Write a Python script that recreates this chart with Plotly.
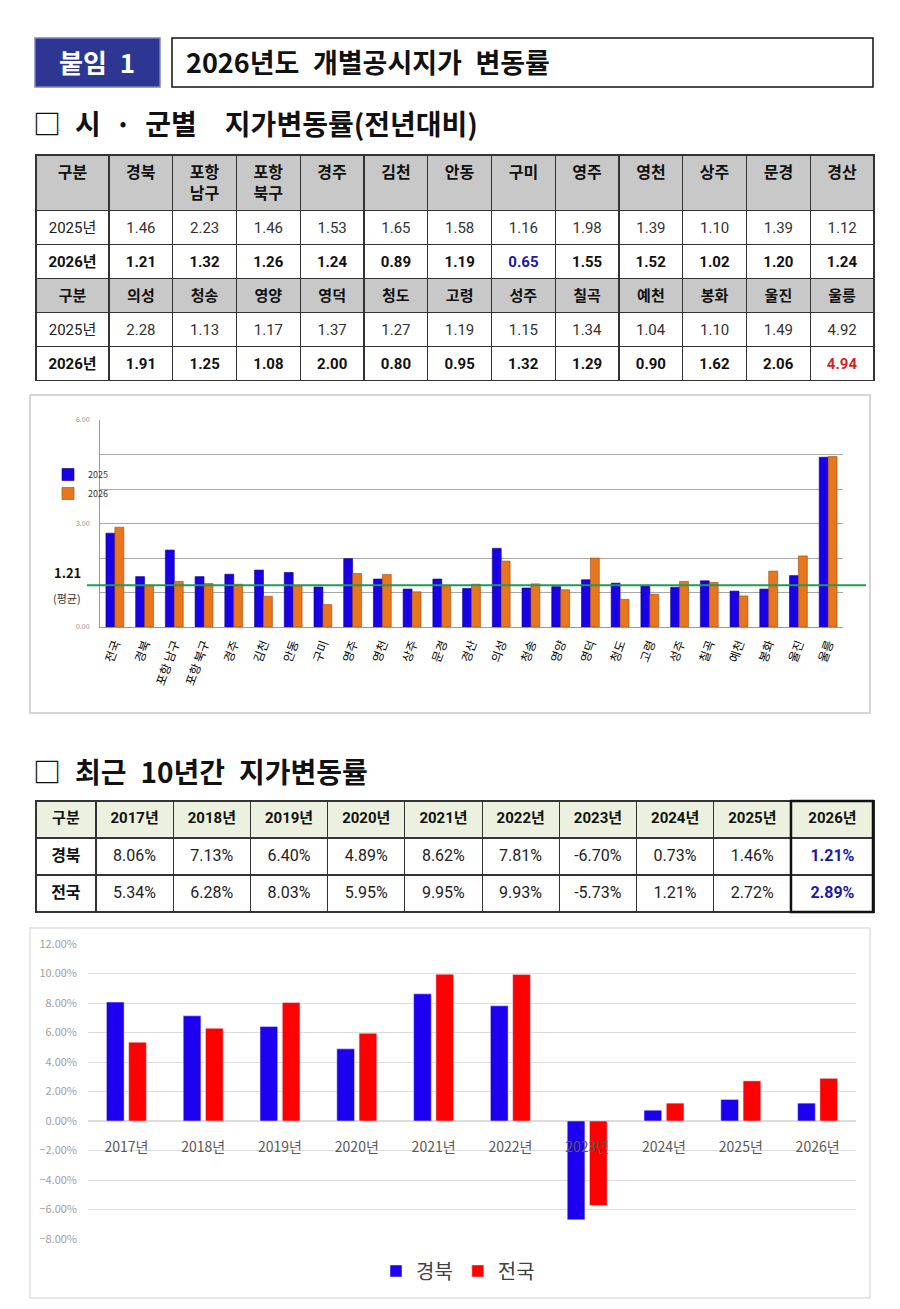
import plotly.graph_objects as go

W, H = 900, 1309
FONT = "Noto Sans CJK KR"
TFONT = "Roboto, Noto Sans CJK KR"
OFF = 8  # page body margin of the browser

def xp(x):
    return (x - OFF) / W

def yp(y):
    return 1 - (y - OFF) / H

# ---------------- data ----------------
group1 = ["경북", "포항 남구", "포항 북구", "경주", "김천", "안동", "구미", "영주", "영천", "상주", "문경", "경산"]
g1_2025 = [1.46, 2.23, 1.46, 1.53, 1.65, 1.58, 1.16, 1.98, 1.39, 1.10, 1.39, 1.12]
g1_2026 = [1.21, 1.32, 1.26, 1.24, 0.89, 1.19, 0.65, 1.55, 1.52, 1.02, 1.20, 1.24]
group2 = ["의성", "청송", "영양", "영덕", "청도", "고령", "성주", "칠곡", "예천", "봉화", "울진", "울릉"]
g2_2025 = [2.28, 1.13, 1.17, 1.37, 1.27, 1.19, 1.15, 1.34, 1.04, 1.10, 1.49, 4.92]
g2_2026 = [1.91, 1.25, 1.08, 2.00, 0.80, 0.95, 1.32, 1.29, 0.90, 1.62, 2.06, 4.94]
nation_label = "전국"

years = ["2017년", "2018년", "2019년", "2020년", "2021년", "2022년", "2023년", "2024년", "2025년", "2026년"]
gyeongbuk = [8.06, 7.13, 6.40, 4.89, 8.62, 7.81, -6.70, 0.73, 1.46, 1.21]
nation = [5.34, 6.28, 8.03, 5.95, 9.95, 9.93, -5.73, 1.21, 2.72, 2.89]

avg_value = g1_2026[0]  # 경북 2026 average line

fig = go.Figure()

BLUE_TXT = "#1a1aa8"
RED_TXT = "#d61f26"
GRAY = "#c8c8c8"

def b(s):
    return f"<b>{s}</b>"

def p(s):
    return f"<span>{s}</span>"

# ---------------- table 1 ----------------
t1_header = [b("구분")] + [b(n.replace(" ", "<br>")) for n in group1]
t1_cols = [[p("2025년"), b("2026년"), b("구분"), p("2025년"), b("2026년")]]
t1_fill = [["white", "white", GRAY, "white", "white"]]
t1_fcol = [["#222", "#111", "#111", "#222", "#111"]]
low_i = g1_2026.index(min(g1_2026))
high_i = g2_2026.index(max(g2_2026))
for i in range(12):
    t1_cols.append([p(f"{g1_2025[i]:.2f}"), b(f"{g1_2026[i]:.2f}"), b(group2[i]),
                    p(f"{g2_2025[i]:.2f}"), b(f"{g2_2026[i]:.2f}")])
    t1_fill.append(["white", "white", GRAY, "white", "white"])
    t1_fcol.append(["#333", BLUE_TXT if i == low_i else "#111", "#111", "#333",
                    RED_TXT if i == high_i else "#111"])

fig.add_trace(go.Table(
    domain=dict(x=[xp(36), xp(874)], y=[yp(394), yp(155)]),
    columnwidth=[73] + [63.7] * 12,
    header=dict(values=t1_header, fill_color=GRAY, align="center", height=50,
                line=dict(color="#333", width=1.2),
                font=dict(family=TFONT, size=16, color="#111")),
    cells=dict(values=t1_cols, fill_color=t1_fill, align="center", height=32,
               line=dict(color="#333", width=1.2),
               font=dict(family=TFONT, size=15, color=t1_fcol)),
))

# ---------------- table 2 ----------------
t2_header = [b("구분")] + [b(y) for y in years]
t2_cols = [[b("경북"), b("전국")]]
t2_fcol = [["#111", "#111"]]
for i in range(len(years)):
    last = i == len(years) - 1
    f = b if last else p
    t2_cols.append([f(f"{gyeongbuk[i]:.2f}%"), f(f"{nation[i]:.2f}%")])
    t2_fcol.append([BLUE_TXT if last else "#222", BLUE_TXT if last else "#222"])

t2_widths = [60] + [77.2] * 9 + [83]
fig.add_trace(go.Table(
    domain=dict(x=[xp(36), xp(874)], y=[yp(922), yp(801)]),
    columnwidth=t2_widths,
    header=dict(values=t2_header, fill_color="#ebf1de", align="center", height=37,
                line=dict(color="#333", width=1.2),
                font=dict(family=TFONT, size=15, color="#111")),
    cells=dict(values=t2_cols, fill_color="white", align="center", height=37,
               line=dict(color="#333", width=1.2),
               font=dict(family=TFONT, size=16, color=t2_fcol)),
))

# ---------------- chart 1 ----------------
cats = [nation_label] + group1 + group2
v25 = [nation[-2]] + g1_2025 + g2_2025
v26 = [nation[-1]] + g1_2026 + g2_2026

bw1 = 0.30
fig.add_trace(go.Bar(x=cats, y=v25, name="2025", width=bw1, offset=-bw1,
                     marker=dict(color="#1a00e6", line=dict(color="#0a0080", width=0.6)),
                     xaxis="x", yaxis="y", legend="legend"))
fig.add_trace(go.Bar(x=cats, y=v26, name="2026", width=bw1, offset=0,
                     marker=dict(color="#e8761e", line=dict(color="#9a4a0a", width=0.6)),
                     xaxis="x", yaxis="y", legend="legend"))

# ---------------- chart 2 ----------------
bw2 = 0.23
fig.add_trace(go.Bar(x=years, y=gyeongbuk, name="경북", width=bw2, offset=-bw2 - 0.03,
                     marker=dict(color="#1e00f0"), xaxis="x2", yaxis="y2", legend="legend2"))
fig.add_trace(go.Bar(x=years, y=nation, name="전국", width=bw2, offset=0.03,
                     marker=dict(color="#ff0000"), xaxis="x2", yaxis="y2", legend="legend2"))

shapes = [
    dict(type="rect", xref="paper", yref="paper", x0=xp(35), x1=xp(160), y0=yp(87), y1=yp(38),
         fillcolor="#2e3694", line=dict(color="#7d82c0", width=1.5), layer="below"),
    dict(type="rect", xref="paper", yref="paper", x0=xp(172), x1=xp(873), y0=yp(87), y1=yp(38),
         fillcolor="white", line=dict(color="#111", width=1.5), layer="below"),
    dict(type="rect", xref="paper", yref="paper", x0=xp(30), x1=xp(870), y0=yp(713), y1=yp(395),
         fillcolor="rgba(0,0,0,0)", line=dict(color="#c8c8c8", width=1.5), layer="below"),
    dict(type="rect", xref="paper", yref="paper", x0=xp(30), x1=xp(870), y0=yp(1298), y1=yp(928),
         fillcolor="rgba(0,0,0,0)", line=dict(color="#e0e0e0", width=1.5), layer="below"),
    dict(type="line", xref="paper", yref="y", x0=xp(87), x1=xp(866), y0=avg_value, y1=avg_value,
         line=dict(color="#22995a", width=2), layer="above"),
]
tw = sum(t2_widths)
x_start = 36 + (874 - 36) * sum(t2_widths[:-1]) / tw
shapes.append(dict(type="rect", xref="paper", yref="paper", x0=xp(x_start), x1=xp(873),
                   y0=yp(912), y1=yp(801), line=dict(color="#111", width=2.5),
                   fillcolor="rgba(0,0,0,0)", layer="above"))

SP = "\u2002"

def ann(text, x, y, size, color="#111", xanchor="center", family=FONT):
    return dict(text=text, x=xp(x), y=yp(y), xref="paper", yref="paper", showarrow=False,
                xanchor=xanchor, yanchor="middle", font=dict(family=family, size=size, color=color))

annotations = [
    ann(b("붙임" + SP + "1"), 97, 62, 26, "white"),
    ann(b("2026년도" + SP + "개별공시지가" + SP + "변동률"), 184, 62, 27, xanchor="left"),
    ann(b("□" + SP + "시" + SP + "·" + SP + "군별" + SP + SP + "지가변동률(전년대비)"), 31, 123, 28,
        xanchor="left"),
    ann(b("□" + SP + "최근" + SP + "10년간" + SP + "지가변동률"), 31, 771, 28, xanchor="left"),
    ann(b(f"{avg_value:.2f}"), 67, 572, 13),
    ann("(평균)", 67, 598, 11, "#333"),
]

fig.update_layout(
    width=W, height=H,
    margin=dict(l=0, r=0, t=0, b=0, autoexpand=False),
    paper_bgcolor="white", plot_bgcolor="rgba(0,0,0,0)",
    font=dict(family=FONT, color="#222"),
    barmode="overlay",
    shapes=shapes, annotations=annotations,
    xaxis=dict(domain=[xp(100), xp(843)], anchor="y", type="category",
               tickangle=-70, tickfont=dict(family=FONT, size=12, color="#000"),
               showline=True, linecolor="#9a9a9a", ticks="", showgrid=False, ticklabelstandoff=4),
    yaxis=dict(domain=[yp(627), yp(420)], anchor="x", range=[0, 6],
               tickvals=[0, 1, 2, 3, 4, 5, 6],
               ticktext=["0.00", "", "", "3.00", "", "", "6.00"],
               tickfont=dict(family=FONT, size=7, color="#8a8a8a"),
               showgrid=True, gridcolor="#a8a8a8", gridwidth=1,
               showline=True, linecolor="#9a9a9a", zeroline=False, ticks="", ticklabelstandoff=8),
    xaxis2=dict(domain=[xp(88), xp(856)], anchor="free", position=yp(1121), type="category",
                tickfont=dict(family=FONT, size=14, color="#595959"),
                showline=False, ticks="", showgrid=False, ticklabelstandoff=16),
    yaxis2=dict(domain=[yp(1239), yp(944)], anchor="x2", range=[-8, 12], dtick=2,
                tickformat=".2f", ticksuffix="%",
                tickfont=dict(family=FONT, size=11, color="#a0a0a0"),
                showgrid=True, gridcolor="#dcdcdc", zeroline=True, zerolinecolor="#dcdcdc",
                showline=False, ticks="", ticklabelstandoff=10),
    legend=dict(x=xp(48), y=yp(460), xanchor="left", yanchor="top", orientation="v",
                font=dict(family=FONT, size=9, color="#333"), bgcolor="rgba(0,0,0,0)",
                itemwidth=30, tracegroupgap=4),
    legend2=dict(x=0.5, y=yp(1271), xanchor="center", yanchor="middle", orientation="h",
                 font=dict(family=FONT, size=20, color="#404040"), bgcolor="rgba(0,0,0,0)",
                 itemwidth=30),
)

fig.write_html("out.html")
